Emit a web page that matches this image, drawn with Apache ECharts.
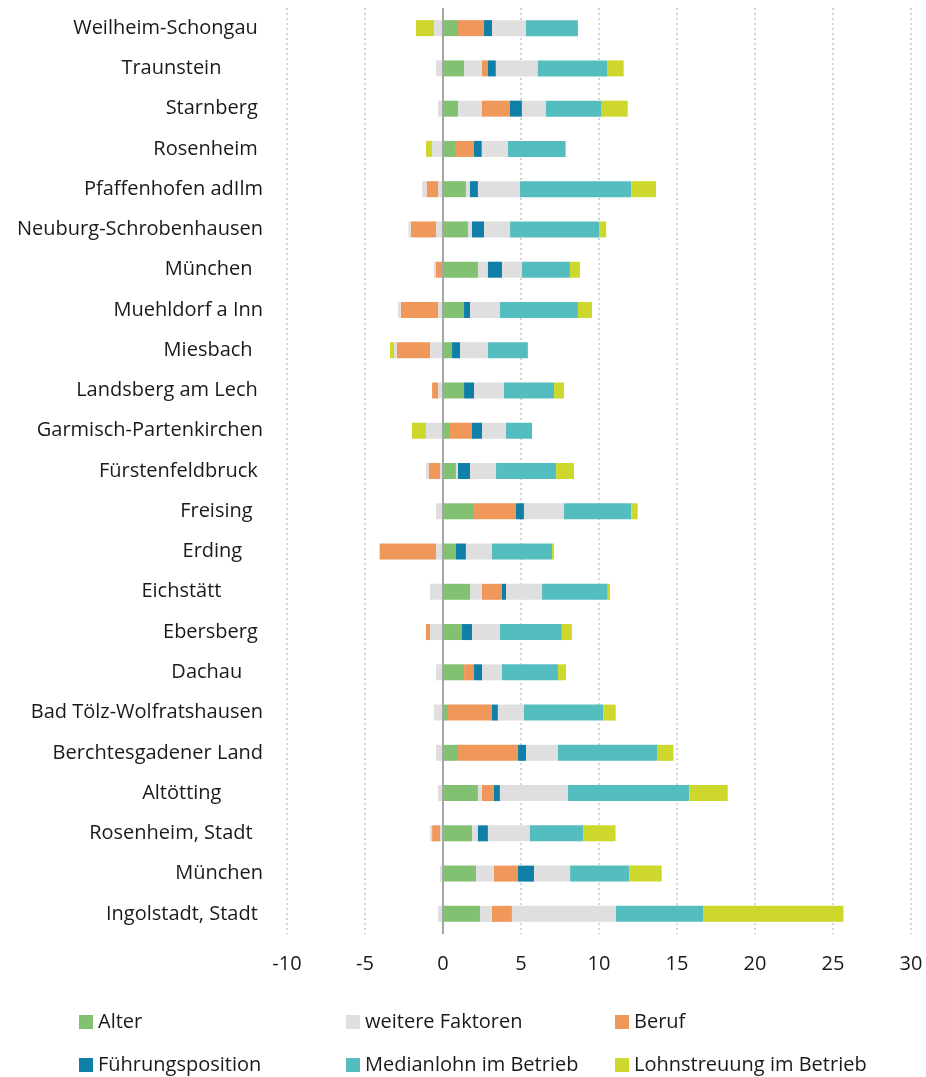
<!DOCTYPE html>
<html>
<head>
<meta charset="utf-8">
<script src="https://cdn.jsdelivr.net/npm/echarts@6/dist/echarts.min.js"></script>
<style>
	html, body { margin: 0; padding: 0; background: #fff; }
	#chart-div { width: 926px; height: 1077px; }
</style>
</head>
<body>
<div id="chart-div"></div>
<script>
// Kategorien, von oben nach unten
var g_regions = ["Weilheim-Schongau", "Traunstein", "Starnberg", "Rosenheim",
	"Pfaffenhofen adIlm", "Neuburg-Schrobenhausen", "München", "Muehldorf a Inn",
	"Miesbach", "Landsberg am Lech", "Garmisch-Partenkirchen", "Fürstenfeldbruck",
	"Freising", "Erding", "Eichstätt", "Ebersberg", "Dachau",
	"Bad Tölz-Wolfratshausen", "Berchtesgadener Land", "Altötting",
	"Rosenheim, Stadt", "München", "Ingolstadt, Stadt"];
// Leerzeichen am Ende der Beschriftungen (wie im Original)
var g_region_trailing = [1, 8, 1, 1, 0, 0, 2, 0, 2, 1, 0, 1,
	2, 4, 8, 1, 4, 0, 0, 8, 2, 0, 1];

// Beiträge je Faktor
var g_alter = [0.96, 1.35, 0.96, 0.83, 1.47, 1.60, 2.24, 1.35, 0.58, 1.35, 0.45, 0.83,
	1.99, 0.83, 1.73, 1.22, 1.35, 0.32, 0.96, 2.24, 1.86, 2.12, 2.37];
// "weitere Faktoren" besteht aus mehreren grauen Teilreihen
var g_weitere_1 = [-0.58, -0.45, -0.32, -0.71, -0.32, -0.45, 0, -0.32, -0.83, -0.32, -1.09, -0.19,
	-0.45, -0.45, -0.83, -0.83, -0.45, -0.58, -0.45, -0.32, -0.19, -0.19, -0.32];
var g_weitere_2 = [0, 1.15, 1.54, 0, 0.26, 0.26, 0.64, 0, 0, 0, 0, 0.13,
	0, 0, 0.77, 0, 0, 0, 0, 0.26, 0.38, 1.15, 0.77];
var g_beruf = [1.67, 0.38, 1.79, 1.15, -0.73, -1.62, -0.45, -2.39, -2.14, -0.38, 1.41, -0.73,
	2.69, -3.59, 1.28, -0.26, 0.64, 2.82, 3.85, 0.77, -0.51, 1.54, 1.28];
var g_weitere_3 = [0, 0, 0, 0, -0.28, -0.15, -0.13, -0.17, -0.17, 0, 0, -0.17,
	0, -0.06, 0, 0, 0, 0, 0, 0, -0.13, 0, 0];
var g_fuehrung = [0.51, 0.51, 0.77, 0.51, 0.51, 0.77, 0.90, 0.38, 0.51, 0.64, 0.64, 0.77,
	0.51, 0.64, 0.26, 0.64, 0.51, 0.38, 0.51, 0.38, 0.64, 1.03, 0];
var g_weitere_4 = [2.18, 2.69, 1.54, 1.67, 2.69, 1.67, 1.28, 1.92, 1.79, 1.92, 1.54, 1.67,
	2.56, 1.67, 2.31, 1.79, 1.28, 1.67, 2.05, 4.36, 2.69, 2.31, 6.67];
var g_medianlohn = [3.33, 4.47, 3.57, 3.70, 7.14, 5.73, 3.08, 5.00, 2.56, 3.21, 1.67, 3.85,
	4.32, 3.85, 4.21, 3.97, 3.59, 5.09, 6.35, 7.78, 3.44, 3.80, 5.58];
var g_lohnstreuung = [-1.15, 1.03, 1.67, -0.38, 1.58, 0.43, 0.64, 0.90, -0.26, 0.64, -0.90, 1.15,
	0.41, 0.13, 0.15, 0.64, 0.51, 0.79, 1.05, 2.46, 2.05, 2.07, 9.00];

// Achse
var g_x_min = -10;
var g_x_max = 30;
var g_x_step = 5;

var FONT = "'Open Sans', 'Noto Sans', sans-serif";
var TEXT_COLOR = "#1a1a1a";

var g_colors = {
	alter: "#83c172",
	weitere: "#dfdfdf",
	beruf: "#f0975a",
	fuehrung: "#0f7fa8",
	median: "#54bdc0",
	streuung: "#ced72b"
};

function bar(name, data, color) {
	return {
		name: name,
		type: "bar",
		stack: "gesamt",
		barWidth: 16,
		data: data,
		itemStyle: { color: color },
		emphasis: { disabled: true }
	};
}

var g_series = [
	bar("Alter", g_alter, g_colors.alter),
	bar("weitere Faktoren", g_weitere_1, g_colors.weitere),
	bar("weitere Faktoren", g_weitere_2, g_colors.weitere),
	bar("Beruf", g_beruf, g_colors.beruf),
	bar("weitere Faktoren", g_weitere_3, g_colors.weitere),
	bar("Führungsposition", g_fuehrung, g_colors.fuehrung),
	bar("weitere Faktoren", g_weitere_4, g_colors.weitere),
	bar("Medianlohn im Betrieb", g_medianlohn, g_colors.median),
	bar("Lohnstreuung im Betrieb", g_lohnstreuung, g_colors.streuung)
];
// Nulllinie
g_series[g_series.length - 1].markLine = {
	silent: true,
	symbol: "none",
	label: { show: false },
	lineStyle: { color: "#a6a6a6", width: 2, type: "solid" },
	data: [{ xAxis: 0 }]
};

// je Legendeneintrag eine eigene Legende (3 Spalten x 2 Zeilen)
function legend(left, top, name) {
	return {
		left: left,
		top: top,
		icon: "rect",
		itemWidth: 14,
		itemHeight: 14,
		selectedMode: false,
		data: [name],
		textStyle: { fontFamily: FONT, fontSize: 20, color: TEXT_COLOR }
	};
}

var option = {
	animation: false,
	grid: { left: 287, right: 15, top: 8, bottom: 143 },
	legend: [
		legend(74, 1007, "Alter"),
		legend(341, 1007, "weitere Faktoren"),
		legend(610, 1007, "Beruf"),
		legend(74, 1050, "Führungsposition"),
		legend(341, 1050, "Medianlohn im Betrieb"),
		legend(610, 1050, "Lohnstreuung im Betrieb")
	],
	xAxis: {
		type: "value",
		min: g_x_min,
		max: g_x_max,
		interval: g_x_step,
		axisLine: { show: false },
		axisTick: { show: false },
		axisLabel: { fontFamily: FONT, fontSize: 20, color: TEXT_COLOR, margin: 20 },
		splitLine: {
			show: true,
			lineStyle: { color: "#d4d4d4", width: 2, type: [2, 3] }
		}
	},
	yAxis: {
		type: "category",
		inverse: true,
		data: g_regions,
		axisLine: { show: false },
		axisTick: { show: false },
		axisLabel: {
			fontFamily: FONT, fontSize: 20, color: TEXT_COLOR, margin: 24,
			formatter: (v, i) => v + " ".repeat(g_region_trailing[i])
		}
	},
	series: g_series
};

var g_chart = echarts.init(document.getElementById("chart-div"));
g_chart.setOption(option);
window.addEventListener("resize", g_chart.resize);
</script>
</body>
</html>
